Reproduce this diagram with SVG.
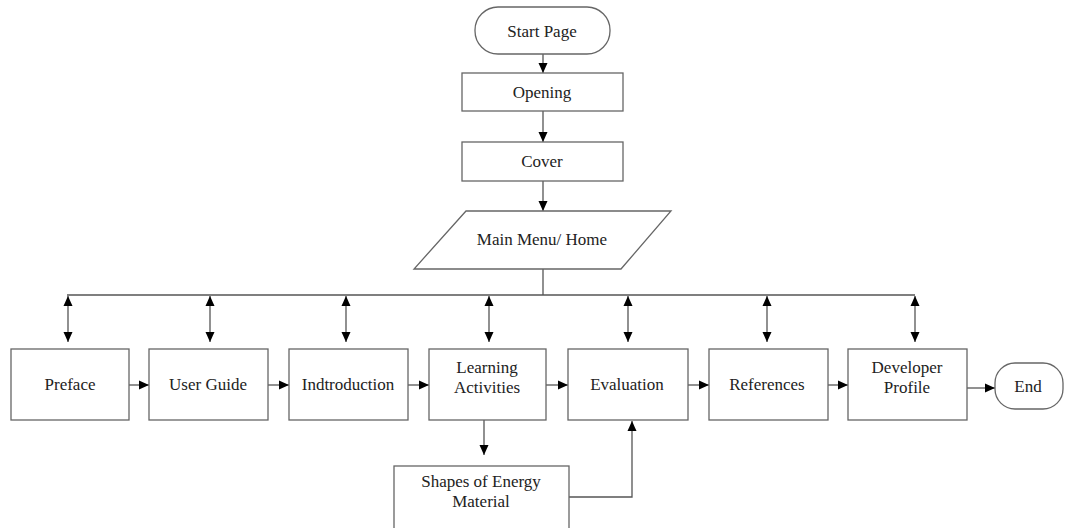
<svg xmlns="http://www.w3.org/2000/svg" width="1067" height="528" viewBox="0 0 1067 528">
<style>
.box{fill:#fff;stroke:#666;stroke-width:1.3}
.t{font-family:"Liberation Serif","Times New Roman",serif;font-size:17px;fill:#222;text-anchor:middle}
.c{fill:none;stroke:#555;stroke-width:1.3}
.a{marker-end:url(#ah)}
.d{marker-start:url(#ah);marker-end:url(#ah)}
</style>
<defs>
<marker id="ah" viewBox="0 0 10 10" refX="10" refY="5" markerWidth="10" markerHeight="10" markerUnits="userSpaceOnUse" orient="auto-start-reverse">
<path d="M0,0.5 L10,5 L0,9.5 Z" fill="#000"/>
</marker>
</defs>
<g id="connectors">
<line class="c a" x1="543" y1="54" x2="543" y2="73"/>
<line class="c a" x1="543" y1="111" x2="543" y2="142"/>
<line class="c a" x1="543" y1="181" x2="543" y2="211"/>
<line class="c" x1="543" y1="269" x2="543" y2="295"/>
<line class="c" x1="67" y1="295" x2="915" y2="295"/>
<line class="c d" x1="68" y1="296" x2="68" y2="342"/>
<line class="c d" x1="210" y1="296" x2="210" y2="342"/>
<line class="c d" x1="346" y1="296" x2="346" y2="342"/>
<line class="c d" x1="489" y1="296" x2="489" y2="342"/>
<line class="c d" x1="628" y1="296" x2="628" y2="342"/>
<line class="c d" x1="767" y1="296" x2="767" y2="342"/>
<line class="c d" x1="915" y1="296" x2="915" y2="342"/>
<line class="c a" x1="129" y1="385" x2="149" y2="385"/>
<line class="c a" x1="268" y1="385" x2="289" y2="385"/>
<line class="c a" x1="408" y1="385" x2="429" y2="385"/>
<line class="c a" x1="546" y1="385" x2="568" y2="385"/>
<line class="c a" x1="688" y1="385" x2="709" y2="385"/>
<line class="c a" x1="828" y1="385" x2="848" y2="385"/>
<line class="c a" x1="967" y1="388" x2="995" y2="388"/>
<line class="c a" x1="484" y1="420" x2="484" y2="455"/>
<polyline class="c a" points="569,497 632,497 632,421"/>
</g>
<g id="start"><rect class="box" x="475" y="7" width="135" height="47" rx="23"/><text class="t" x="542" y="37">Start Page</text></g>
<g id="opening"><rect class="box" x="462" y="73" width="161" height="38"/><text class="t" x="542" y="98">Opening</text></g>
<g id="cover"><rect class="box" x="462" y="142" width="161" height="39"/><text class="t" x="542" y="167">Cover</text></g>
<g id="menu"><polygon class="box" points="466,211 671,211 621,269 414,269"/><text class="t" x="542" y="245">Main Menu/ Home</text></g>
<g id="preface"><rect class="box" x="11" y="349" width="118" height="71"/><text class="t" x="70" y="390">Preface</text></g>
<g id="guide"><rect class="box" x="149" y="349" width="119" height="71"/><text class="t" x="208" y="390">User Guide</text></g>
<g id="intro"><rect class="box" x="289" y="349" width="119" height="71"/><text class="t" x="348" y="390">Indtroduction</text></g>
<g id="learning"><rect class="box" x="429" y="349" width="117" height="71"/><text class="t" x="487" y="373">Learning</text><text class="t" x="487" y="393">Activities</text></g>
<g id="evaluation"><rect class="box" x="568" y="349" width="120" height="71"/><text class="t" x="627" y="390">Evaluation</text></g>
<g id="references"><rect class="box" x="709" y="349" width="119" height="71"/><text class="t" x="767" y="390">References</text></g>
<g id="developer"><rect class="box" x="848" y="349" width="119" height="71"/><text class="t" x="907" y="373">Developer</text><text class="t" x="907" y="393">Profile</text></g>
<g id="end"><rect class="box" x="995" y="363" width="68" height="46" rx="20"/><text class="t" x="1028" y="392">End</text></g>
<g id="shapes"><rect class="box" x="394" y="466" width="175" height="70"/><text class="t" x="481" y="487">Shapes of Energy</text><text class="t" x="481" y="507">Material</text></g>
</svg>
